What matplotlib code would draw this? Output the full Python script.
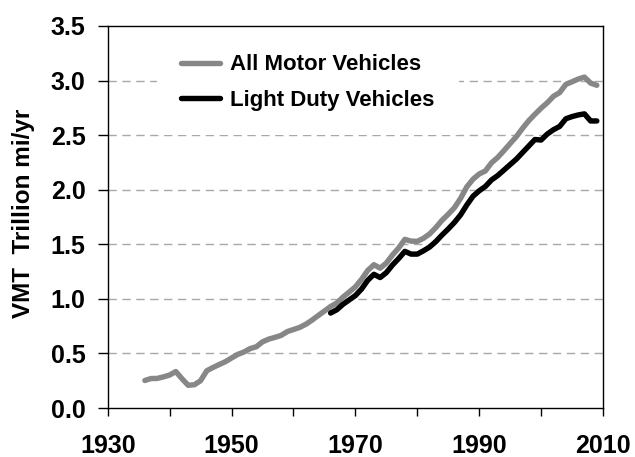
import matplotlib
matplotlib.use("Agg")
import matplotlib.pyplot as plt
from matplotlib.ticker import MultipleLocator, FuncFormatter

plt.rcParams['font.family'] = ['Liberation Sans', 'DejaVu Sans']
plt.rcParams['font.weight'] = 'bold'

# All motor vehicles VMT (trillion miles / yr)
years_all = list(range(1936, 2010))
vmt_all = [0.252, 0.270, 0.271, 0.285, 0.302, 0.334, 0.268, 0.208, 0.213, 0.250,
           0.341, 0.371, 0.398, 0.424, 0.458, 0.491, 0.513, 0.544, 0.561, 0.606,
           0.631, 0.647, 0.665, 0.700, 0.719, 0.738, 0.767, 0.805, 0.847, 0.888,
           0.930, 0.962, 1.016, 1.062, 1.110, 1.179, 1.260, 1.313, 1.281, 1.328,
           1.402, 1.467, 1.545, 1.529, 1.527, 1.555, 1.595, 1.653, 1.720, 1.775,
           1.835, 1.921, 2.026, 2.096, 2.144, 2.172, 2.247, 2.296, 2.358, 2.423,
           2.486, 2.562, 2.632, 2.691, 2.747, 2.797, 2.856, 2.890, 2.965, 2.989,
           3.014, 3.032, 2.977, 2.957]

# Light duty vehicles VMT (trillion miles / yr)
years_ldv = list(range(1966, 2010))
vmt_ldv = [0.870, 0.900, 0.950, 0.990, 1.030, 1.090, 1.170, 1.225, 1.195, 1.240,
           1.310, 1.370, 1.435, 1.410, 1.410, 1.440, 1.475, 1.525, 1.585, 1.640,
           1.700, 1.770, 1.860, 1.940, 1.990, 2.030, 2.090, 2.130, 2.180, 2.230,
           2.280, 2.340, 2.400, 2.460, 2.455, 2.510, 2.550, 2.580, 2.650, 2.670,
           2.685, 2.695, 2.630, 2.630]

labels = ['All Motor Vehicles', 'Light Duty Vehicles']
ylabel = 'VMT  Trillion mi/yr'

W, H = 635, 457
fig = plt.figure(figsize=(W / 100, H / 100), dpi=100)
L, R, B, T = 107.7, 603, 408, 26
ax = fig.add_axes([L / W, 1 - B / H, (R - L) / W, (B - T) / H])

ax.plot(years_all, vmt_all, color='#878787', lw=3.9, solid_capstyle='round',
        solid_joinstyle='round', label=labels[0], zorder=3)
ax.plot(years_ldv, vmt_ldv, color='black', lw=3.9, solid_capstyle='round',
        solid_joinstyle='round', label=labels[1], zorder=4)

ax.set_xlim(1930, 2010)
ax.set_ylim(0, 3.5)
ax.xaxis.set_major_locator(MultipleLocator(10))
ax.xaxis.set_major_formatter(FuncFormatter(lambda v, p: f"{int(round(v))}" if int(round(v)) % 20 == 10 else ""))
ax.yaxis.set_major_locator(MultipleLocator(0.5))
ax.yaxis.set_major_formatter(FuncFormatter(lambda v, p: f"{v:.1f}"))

ax.tick_params(axis='x', direction='out', length=6, width=1, pad=13, labelsize=18)
ax.tick_params(axis='y', direction='out', length=7, width=1, pad=9, labelsize=18)
for t in ax.get_xticklabels() + ax.get_yticklabels():
    t.set_fontweight('bold')

for v in [0.5, 1.0, 1.5, 2.0, 2.5, 3.0]:
    ax.axhline(v, color='#a8a8a8', lw=1.0, dashes=(6, 4), zorder=1)

for s in ax.spines.values():
    s.set_linewidth(1.0)
    s.set_color('black')

leg = ax.legend(loc='upper left', bbox_to_anchor=((157 - L) / (R - L), (B - 30) / (B - T)),
                borderaxespad=0, frameon=True, fancybox=False, edgecolor='none',
                facecolor='white', framealpha=1, handlelength=1.75,
                handletextpad=0.45, labelspacing=0.65, borderpad=1.1,
                prop={'weight': 'bold', 'size': 16})
leg.set_zorder(2)

fig.text(24 / W, 1 - 213 / H, ylabel, rotation=90, ha='center', va='center',
         fontsize=17.5, fontweight='bold')

fig.savefig('out.png', dpi=100)
